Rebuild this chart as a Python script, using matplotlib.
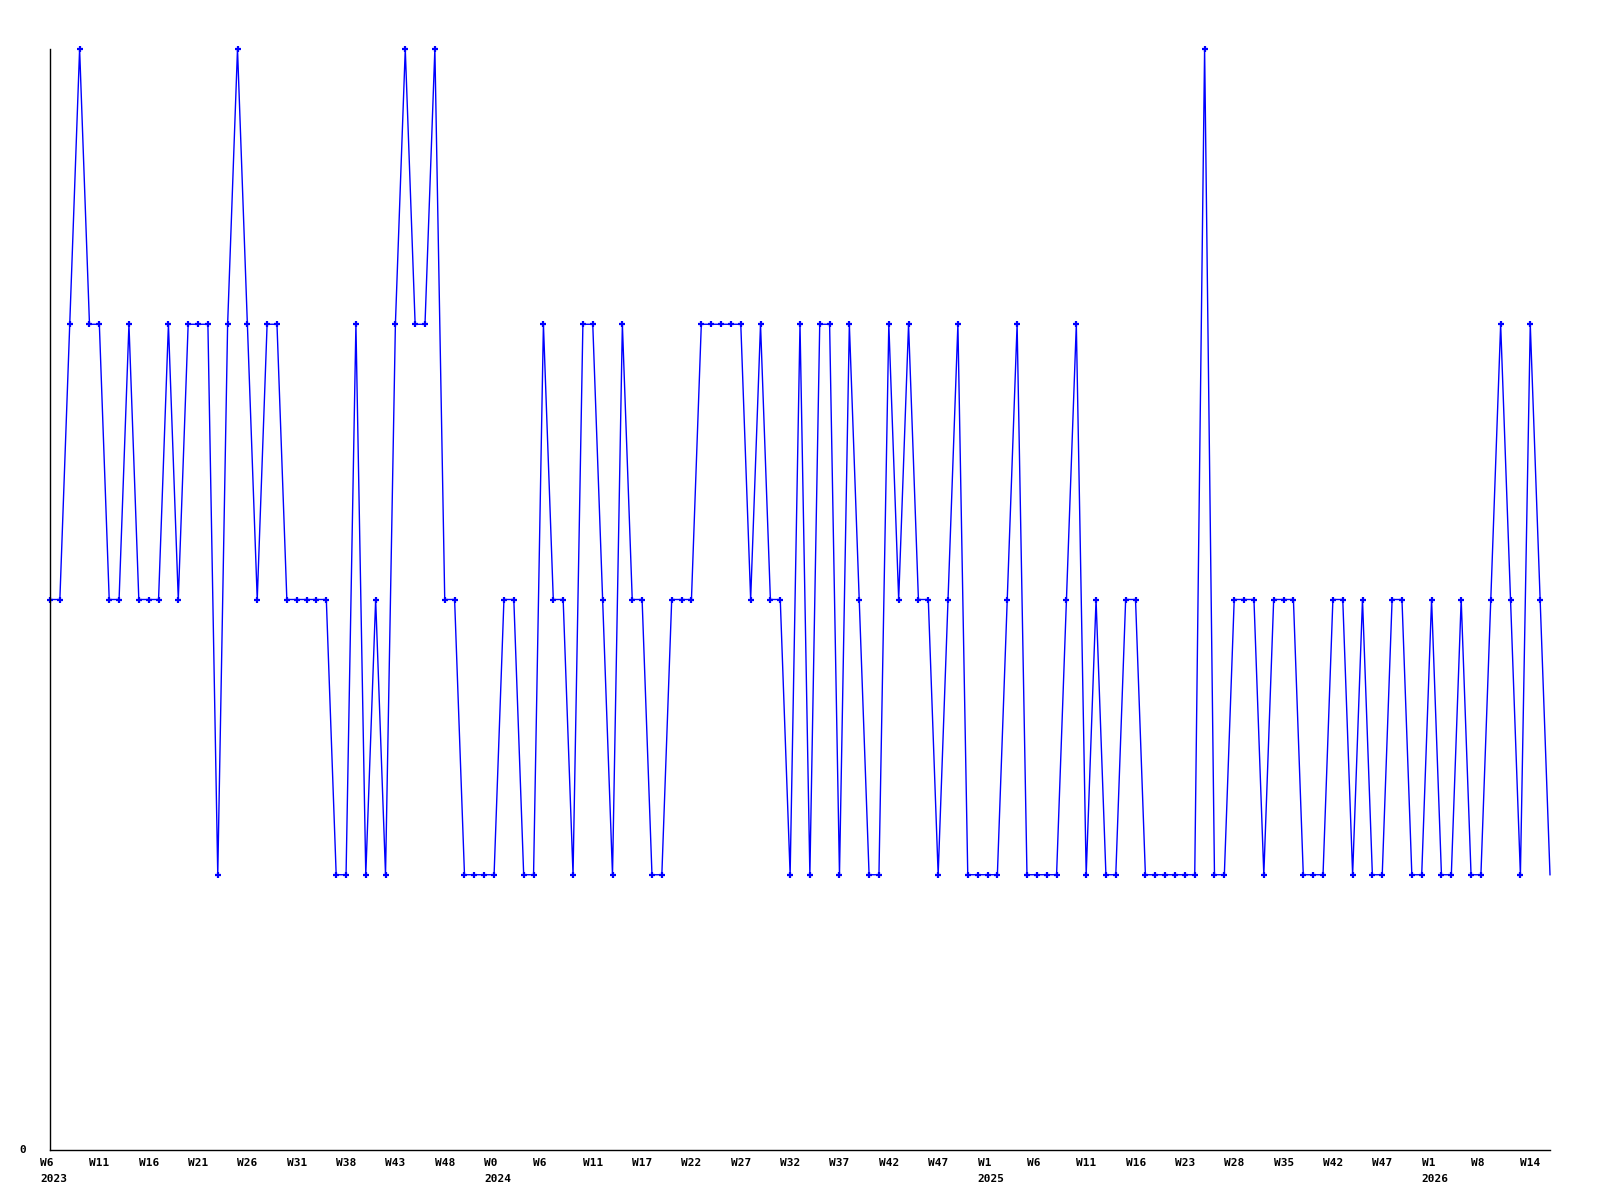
import matplotlib
matplotlib.use("Agg")
import matplotlib.pyplot as plt
from matplotlib.transforms import blended_transform_factory

values = [2, 2, 3, 4, 3, 3, 2, 2, 3, 2, 2, 2, 3, 2, 3, 3, 3, 1, 3, 4,
          3, 2, 3, 3, 2, 2, 2, 2, 2, 1, 1, 3, 1, 2, 1, 3, 4, 3, 3, 4,
          2, 2, 1, 1, 1, 1, 2, 2, 1, 1, 3, 2, 2, 1, 3, 3, 2, 1, 3, 2,
          2, 1, 1, 2, 2, 2, 3, 3, 3, 3, 3, 2, 3, 2, 2, 1, 3, 1, 3, 3,
          1, 3, 2, 1, 1, 3, 2, 3, 2, 2, 1, 2, 3, 1, 1, 1, 1, 2, 3, 1,
          1, 1, 1, 2, 3, 1, 2, 1, 1, 2, 2, 1, 1, 1, 1, 1, 1, 4, 1, 1,
          2, 2, 2, 1, 2, 2, 2, 1, 1, 1, 2, 2, 1, 2, 1, 1, 2, 2, 1, 1,
          2, 1, 1, 2, 1, 1, 2, 3, 2, 1, 3, 2, 1]

week_labels = ["W6", "W11", "W16", "W21", "W26", "W31", "W38", "W43", "W48",
               "W0", "W6", "W11", "W17", "W22", "W27", "W32", "W37", "W42",
               "W47", "W1", "W6", "W11", "W16", "W23", "W28", "W35", "W42",
               "W47", "W1", "W8", "W14"]
label_step = 5
year_labels = {0: "2023", 45: "2024", 95: "2025", 140: "2026"}

W, H = 1600, 1200
fig = plt.figure(figsize=(16, 12), dpi=100)
ax = fig.add_axes([50 / W, 50 / H, 1500 / W, (1150 - 49) / H])

x = list(range(len(values)))
ax.plot(x, values, color="#0000ff", linewidth=1.0, clip_on=False)
ax.plot(x[:-1], values[:-1], linestyle="none", marker="+", markersize=4.5,
        markeredgewidth=1.6, color="#0000ff", clip_on=False)

ax.set_xlim(0, len(values) - 1)
ax.set_ylim(0, 4)
for s in ["top", "right"]:
    ax.spines[s].set_visible(False)
for s in ["left", "bottom"]:
    ax.spines[s].set_color("black")
    ax.spines[s].set_linewidth(1.0)
ax.set_xticks([])
ax.set_yticks([])

font = dict(family="DejaVu Sans Mono", fontweight="bold", fontsize=8)
trans = blended_transform_factory(ax.transData, ax.transAxes)
for k, lab in enumerate(week_labels):
    i = k * label_step
    ax.annotate(lab, xy=(i, 0), xycoords=trans, xytext=(-7.2, -6),
                textcoords="offset points", ha="left", va="top", **font)
for i, yl in year_labels.items():
    ax.annotate(yl, xy=(i, 0), xycoords=trans, xytext=(-7.2, -17.5),
                textcoords="offset points", ha="left", va="top", **font)

ax.annotate("0", xy=(0, 0), xycoords="axes fraction", xytext=(-17, 0),
            textcoords="offset points", ha="right", va="center", **font)

fig.savefig("out.png", dpi=100, facecolor="white")
